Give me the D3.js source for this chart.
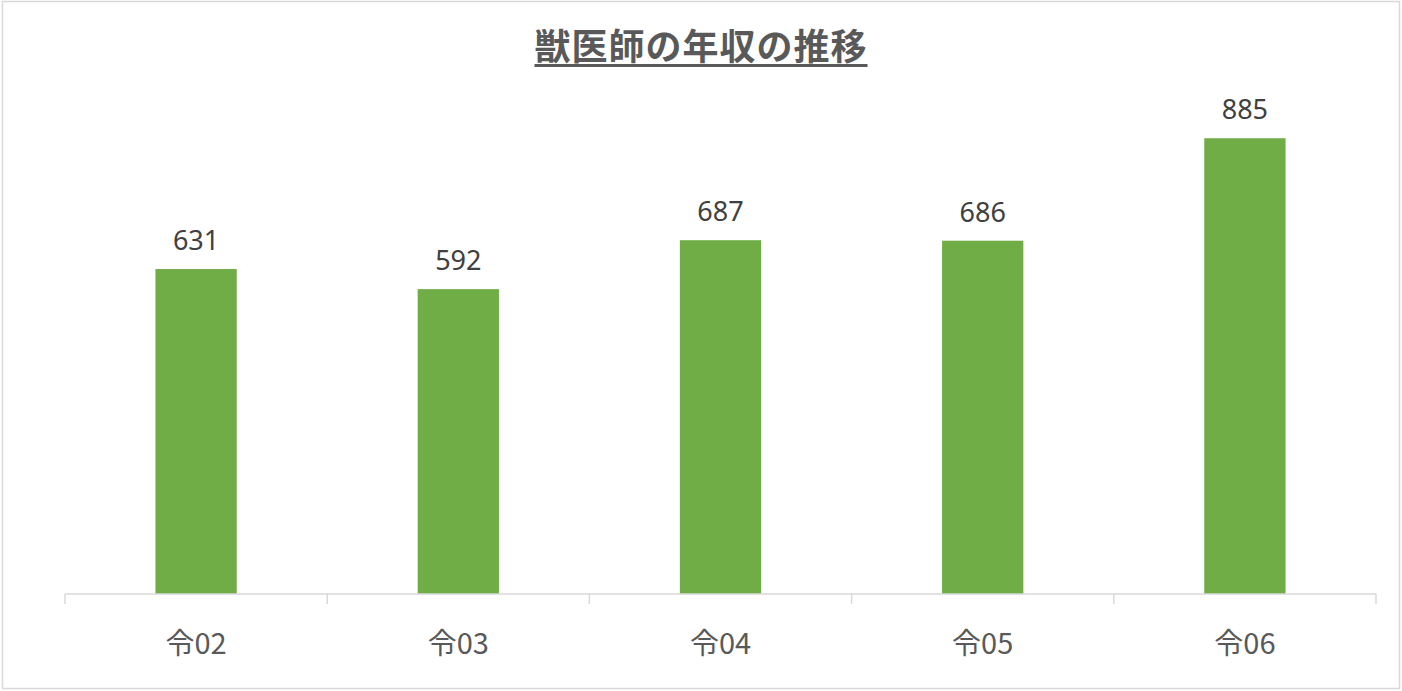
<!DOCTYPE html>
<html>
<head>
<meta charset="utf-8">
<script src="https://cdn.jsdelivr.net/npm/d3@7"></script>
<style>
  body { margin: 0; background: #fff; }
  svg { display: block; }
</style>
</head>
<body>
<div id="chart"></div>
<script>
var categories = ['令02', '令03', '令04', '令05', '令06']
var values = [631, 592, 687, 686, 885]
var title = '獣医師の年収の推移'

var W = 1402, H = 691
var margin = {top: 79, right: 26, bottom: 97, left: 65}
var width = W - margin.left - margin.right
var height = H - margin.top - margin.bottom

var svg = d3.select('#chart')
  .append('svg')
  .attr('width', W)
  .attr('height', H)

/* outer frame */
svg.append('rect')
  .attr('x', 2.5).attr('y', 1.5)
  .attr('width', W - 5).attr('height', H - 4)
  .attr('fill', '#fff')
  .attr('stroke', '#d9d9d9')
  .attr('stroke-width', 1.5)

/* title */
var titleText = svg.append('text')
  .attr('x', 701)
  .attr('y', 60)
  .attr('text-anchor', 'middle')
  .attr('font-family', '"Noto Sans CJK JP", sans-serif')
  .attr('font-weight', 'bold')
  .attr('font-size', 36)
  .attr('letter-spacing', 1)
  .attr('fill', '#595959')
  .text(title)

var tb = titleText.node().getBBox()
svg.append('rect')
  .attr('x', tb.x)
  .attr('y', 64)
  .attr('width', tb.width)
  .attr('height', 3)
  .attr('fill', '#595959')

var g = svg.append('g')
  .attr('transform', 'translate(' + margin.left + ',' + margin.top + ')')

var xScale = d3.scaleBand()
  .domain(categories)
  .range([0, width])
  .paddingInner(0.69)
  .paddingOuter(0.345)

var yScale = d3.scaleLinear()
  .domain([0, 1000])
  .range([height, 0])

/* bars */
g.selectAll('.bar')
  .data(values)
  .enter().append('rect')
  .attr('class', 'bar')
  .attr('x', (d, i) => xScale(categories[i]))
  .attr('y', d => yScale(d))
  .attr('width', xScale.bandwidth())
  .attr('height', d => height - yScale(d))
  .attr('fill', '#70ad47')

/* value labels */
g.selectAll('.val')
  .data(values)
  .enter().append('text')
  .attr('class', 'val')
  .attr('x', (d, i) => xScale(categories[i]) + xScale.bandwidth() / 2)
  .attr('y', d => yScale(d) - 19)
  .attr('text-anchor', 'middle')
  .attr('font-family', '"Noto Sans", sans-serif')
  .attr('font-size', 27)
  .attr('fill', '#404040')
  .text(d => d)

/* x axis: line with ticks at category boundaries */
var step = width / categories.length
var axis = g.append('g')
  .attr('class', 'axis axis--x')
  .attr('transform', 'translate(0,' + height + ')')

axis.append('line')
  .attr('x1', 0).attr('x2', width)
  .attr('y1', 0).attr('y2', 0)
  .attr('stroke', '#d9d9d9')
  .attr('stroke-width', 1.5)

axis.selectAll('.tick')
  .data(d3.range(categories.length + 1))
  .enter().append('line')
  .attr('class', 'tick')
  .attr('x1', d => d * step).attr('x2', d => d * step)
  .attr('y1', 0).attr('y2', 10)
  .attr('stroke', '#d9d9d9')
  .attr('stroke-width', 1.5)

axis.selectAll('.cat')
  .data(categories)
  .enter().append('text')
  .attr('class', 'cat')
  .attr('x', d => xScale(d) + xScale.bandwidth() / 2)
  .attr('y', 60)
  .attr('text-anchor', 'middle')
  .attr('font-family', '"Noto Sans CJK JP", sans-serif')
  .attr('font-size', 29)
  .attr('fill', '#595959')
  .text(d => d)
</script>
</body>
</html>
